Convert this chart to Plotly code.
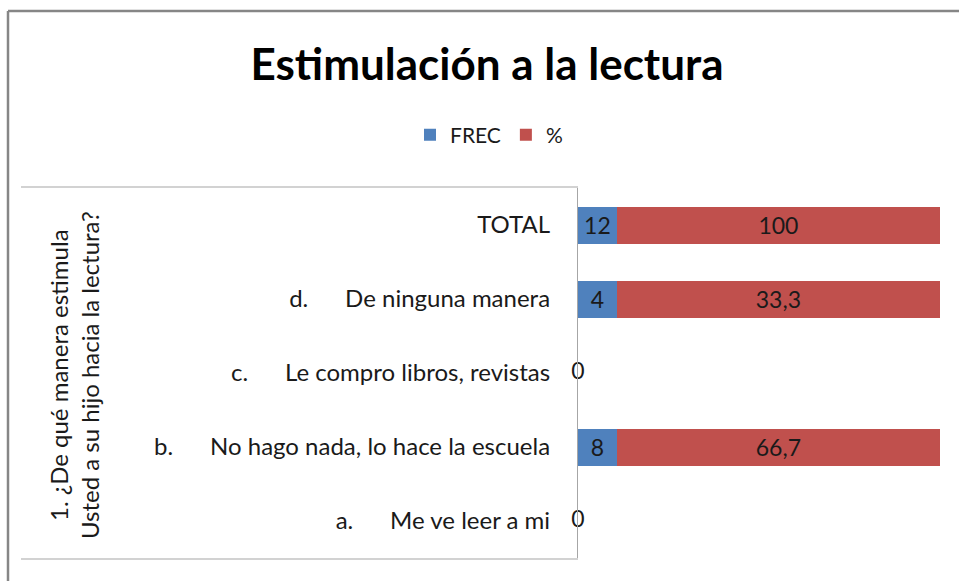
import plotly.graph_objects as go

categories = ["a.", "b.", "c.", "d.", "TOTAL"]
category_texts = ["Me ve leer a mi", "No hago nada, lo hace la escuela",
                  "Le compro libros, revistas", "De ninguna manera", ""]
frec = [0, 8, 0, 4, 12]
pct = [0, 66.7, 0, 33.3, 100]
series_names = ["FREC", "%"]
title_text = "Estimulación a la lectura"
axis_title = "1. ¿De qué manera estimula<br>Usted a su hijo hacia la lectura?"

BLUE = "#4F81BD"
RED = "#C0504D"
FONT = "Lato"
GRID = "#A6A6A6"
TXT = "#1a1a1a"

NB = "\u00a0"
ticktext = []
for c, t in zip(categories, category_texts):
    if t:
        ticktext.append(c + NB * 6 + t)
    else:
        ticktext.append(c)


def fmt(v):
    if v == 0:
        return ""
    return ("%g" % v).replace(".", ",")


fig = go.Figure()
for name, vals, col in [(series_names[0], frec, BLUE), (series_names[1], pct, RED)]:
    fig.add_trace(go.Bar(
        y=categories, x=vals, orientation="h", name=name,
        marker=dict(color=col, line=dict(width=0)),
        text=[fmt(v) for v in vals], texttemplate="%{text}",
        textposition="inside", insidetextanchor="middle",
        constraintext="none", cliponaxis=False,
        textfont=dict(family=FONT, size=23, color=TXT), textangle=0,
        hoverinfo="skip",
    ))

# zero labels at the axis
zero_cats = [c for c, f, p in zip(categories, frec, pct) if f + p == 0]
fig.add_trace(go.Scatter(
    y=zero_cats, x=[0] * len(zero_cats), mode="text", text=["0"] * len(zero_cats),
    textposition="middle center", textfont=dict(family=FONT, size=23, color=TXT),
    showlegend=False, hoverinfo="skip", cliponaxis=False,
))

W, H = 959, 581
L, R, T, B = 578, 19, 188, 23
pw = W - L - R
ph = H - T - B


def px_x(p):
    return (p - L) / pw


def px_y(p):
    return (H - B - p) / ph


shapes = [
    # outer chart border
    dict(type="line", xref="paper", yref="paper", x0=px_x(8), x1=px_x(970),
         y0=px_y(11), y1=px_y(11), line=dict(color="#868686", width=2.5)),
    dict(type="line", xref="paper", yref="paper", x0=px_x(8), x1=px_x(8),
         y0=px_y(11), y1=px_y(590), line=dict(color="#868686", width=2.5)),
    # category box
    dict(type="line", xref="paper", yref="paper", x0=px_x(21), x1=px_x(578),
         y0=px_y(187), y1=px_y(187), line=dict(color=GRID, width=1.2)),
    dict(type="line", xref="paper", yref="paper", x0=px_x(21), x1=px_x(578),
         y0=px_y(559), y1=px_y(559), line=dict(color=GRID, width=1.2)),
]

fig.update_layout(
    width=W, height=H, autosize=False,
    margin=dict(l=L, r=R, t=T, b=B, pad=0),
    paper_bgcolor="white", plot_bgcolor="white",
    barmode="stack", barnorm="percent", bargap=0.5,
    font=dict(family=FONT, size=23, color=TXT),
    title=dict(text="<b>" + title_text + "</b>", x=487 / W, xanchor="center",
               y=1 - 65 / H, yanchor="middle",
               font=dict(family=FONT, size=44, color="#000000")),
    legend=dict(orientation="h", x=px_x(489), xanchor="center", y=px_y(135),
                yanchor="middle", font=dict(family=FONT, size=21, color=TXT),
                itemwidth=30, traceorder="normal", bgcolor="rgba(0,0,0,0)"),
    xaxis=dict(range=[0, 100.001], visible=False, fixedrange=True),
    yaxis=dict(categoryorder="array", categoryarray=categories,
               tickmode="array", tickvals=categories, ticktext=ticktext,
               showline=True, linecolor=GRID, linewidth=1.2, ticks="",
               showgrid=False, zeroline=False, ticklabelstandoff=22,
               tickfont=dict(family=FONT, size=24, color=TXT),
               range=[-0.5, 4.5], fixedrange=True),
    shapes=shapes,
    annotations=[dict(text=axis_title, xref="paper", yref="paper",
                      x=px_x(74), y=px_y(375), xanchor="center", yanchor="middle",
                      textangle=-90, showarrow=False, align="center",
                      font=dict(family=FONT, size=24, color=TXT))],
    showlegend=True,
)

fig.write_html("out.html", config={"displayModeBar": False},
               post_script="document.body.style.margin='0px';")
